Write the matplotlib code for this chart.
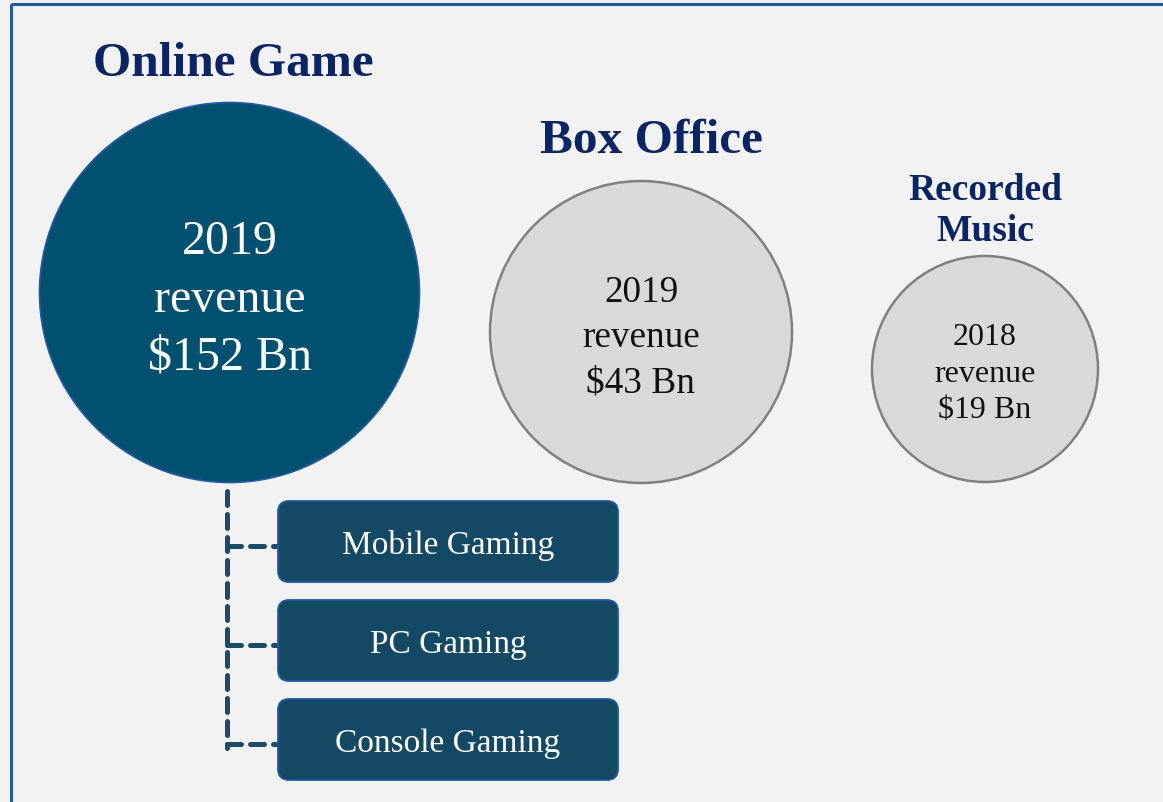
import matplotlib.pyplot as plt
from matplotlib.patches import Circle, Rectangle, FancyBboxPatch

plt.rcParams['font.family'] = ['Liberation Serif', 'DejaVu Serif']

# chart content
markets = ['Online Game', 'Box Office', 'Recorded\nMusic']
years = ['2019', '2019', '2018']
revenue_bn = [152, 43, 19]
segments = ['Mobile Gaming', 'PC Gaming', 'Console Gaming']

# layout (pixel space of the 1163x803 canvas)
centers = [(229.5, 293.5), (641, 333), (985, 370)]
radii = [190, 151, 113]
title_pos = [(233, 64), (651, 141), (985, 211)]
title_size = [35.5, 35.5, 27]
text_size = [34.5, 26.8, 23]
line_gap = [57.5, 45, 36.5]
fills = ['#02506f', '#d9d9d9', '#d9d9d9']
edges = ['#2459a3', '#808080', '#808080']
edge_w = [1.2, 1.8, 1.8]
text_cols = ['white', '#111111', '#111111']

navy = '#0b2463'

fig = plt.figure(figsize=(11.63, 8.03), dpi=100)
fig.patch.set_facecolor('#f2f2f2')
ax = fig.add_axes([0, 0, 1, 1])
ax.set_xlim(0, 1163)
ax.set_ylim(803, 0)
ax.set_aspect('equal')
ax.axis('off')

# frame (only top and left edges visible)
ax.add_patch(Rectangle((11, 5), 1300, 1000, facecolor='none',
                       edgecolor='#1f5c9e', lw=2.2, zorder=1))

for i in range(3):
    cx, cy = centers[i]
    ax.add_patch(Circle((cx, cy), radii[i], facecolor=fills[i],
                        edgecolor=edges[i], lw=edge_w[i], zorder=2))
    ax.text(title_pos[i][0], title_pos[i][1], markets[i], ha='center',
            va='center', fontsize=title_size[i], fontweight='bold',
            color=navy, linespacing=1.22, zorder=3)
    lines = [years[i], 'revenue', f'${revenue_bn[i]} Bn']
    g = line_gap[i]
    for k, s in enumerate(lines):
        ax.text(cx, cy - g * 0.89 + k * g, s, ha='center', va='center',
                fontsize=text_size[i], color=text_cols[i], zorder=3)

# segment boxes
box_x, box_w, box_h = 278, 340, 81
box_tops = [502, 601, 700]
line_x = 227
dash_col = '#1d4a66'
ax.plot([line_x, line_x], [492, 749], color=dash_col, lw=3.6,
        dashes=(2.8, 1.8), dash_capstyle='round', zorder=2)
for top, name in zip(box_tops, segments):
    mid = top + box_h / 2 + 4
    ax.plot([line_x, box_x], [mid, mid], color=dash_col, lw=3.6,
            dashes=(2.8, 1.8), dash_capstyle='round', zorder=2)
    ax.add_patch(FancyBboxPatch((box_x, top), box_w, box_h,
                                boxstyle='round,pad=0,rounding_size=11',
                                facecolor='#134963', edgecolor='#1f5aa0',
                                lw=1.3, zorder=3))
    ax.text(box_x + box_w / 2, top + box_h / 2 + 3, name, ha='center',
            va='center', fontsize=24, color='white', zorder=4)

fig.savefig('out.png', dpi=100, facecolor=fig.get_facecolor())
